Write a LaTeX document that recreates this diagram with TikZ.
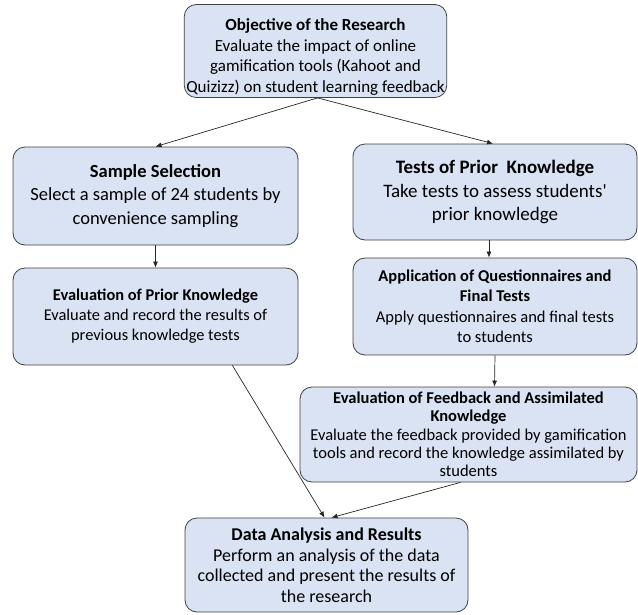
\documentclass[tikz,border=0pt]{standalone}
\usepackage{fontspec}
\setmainfont{Carlito}
\usepackage{tikz}
\usetikzlibrary{arrows.meta}
\definecolor{boxfill}{HTML}{DAE3F3}
\definecolor{boxline}{HTML}{404040}
\tikzset{
  stepbox/.style={draw=boxline, fill=boxfill, rounded corners=12pt, line width=0.8pt,
    align=center, inner sep=2pt},
  flow/.style={-{Latex[length=6pt,width=5pt]}, draw=black!85, line width=0.7pt}
}

\begin{document}
\begin{tikzpicture}[x=1pt,y=-1pt]
  \useasboundingbox (0,0) rectangle (638,614);
  \node[stepbox, minimum width=255pt, minimum height=90pt,
        font=\fontsize{17}{20.7}\selectfont] (obj) at (315.5,51)
    {\rule{0pt}{24pt}\textbf{Objective of the Research}\\ Evaluate the impact of online\\
     gamification tools (Kahoot and\\ Quizizz) on student learning feedback};
  \node[stepbox, minimum width=285pt, minimum height=98pt,
        font=\fontsize{18.5}{23.5}\selectfont] (sample) at (155.5,196)
    {\textbf{Sample Selection}\\ Select a sample of 24 students by\\ convenience sampling};
  \node[stepbox, minimum width=284pt, minimum height=96pt,
        font=\fontsize{19}{23.5}\selectfont] (tests) at (495,192)
    {\textbf{Tests of Prior\ \ Knowledge}\\ Take tests to assess students\textquotesingle\\ prior knowledge};
  \node[stepbox, minimum width=285pt, minimum height=97pt,
        font=\fontsize{16.4}{20}\selectfont] (evalprior) at (155.5,316.5)
    {\textbf{Evaluation of Prior Knowledge}\\ Evaluate and record the results of\\
     previous knowledge tests};
  \node[stepbox, minimum width=284pt, minimum height=97pt,
        font=\fontsize{16.5}{20.5}\selectfont] (appl) at (495,306.5)
    {\textbf{Application of Questionnaires and}\\ \textbf{Final Tests}\\
     Apply questionnaires and final tests\\ to students};
  \node[stepbox, minimum width=337pt, minimum height=95pt,
        font=\fontsize{16.5}{18.3}\selectfont] (feedback) at (468.5,434.5)
    {\textbf{Evaluation of Feedback and Assimilated}\\ \textbf{Knowledge}\\
     Evaluate the feedback provided by gamification\\
     tools and record the knowledge assimilated by\\ students};
  \node[stepbox, minimum width=283pt, minimum height=94pt,
        font=\fontsize{18}{20.5}\selectfont] (data) at (326.5,565)
    {\textbf{Data Analysis and Results}\\ Perform an analysis of the data\\
     collected and present the results of\\ the research};
  % connectors
  \draw[flow] ([xshift=2pt]obj.south) -- (sample.north);
  \draw[flow] ([xshift=2pt]obj.south) -- ([xshift=-2pt]tests.north);
  \draw[flow] (sample.south) -- (evalprior.north);
  \draw[flow] ([xshift=-6pt]tests.south) -- ([xshift=-6pt]appl.north);
  \draw[flow] (appl.south) -- ([xshift=26pt]feedback.north);
  \draw[flow] ([xshift=-66pt]evalprior.south east) -- ([xshift=-2pt]data.north);
  \draw[flow] ([xshift=-8pt]feedback.south) -- ([xshift=5pt]data.north);
\end{tikzpicture}
\end{document}
